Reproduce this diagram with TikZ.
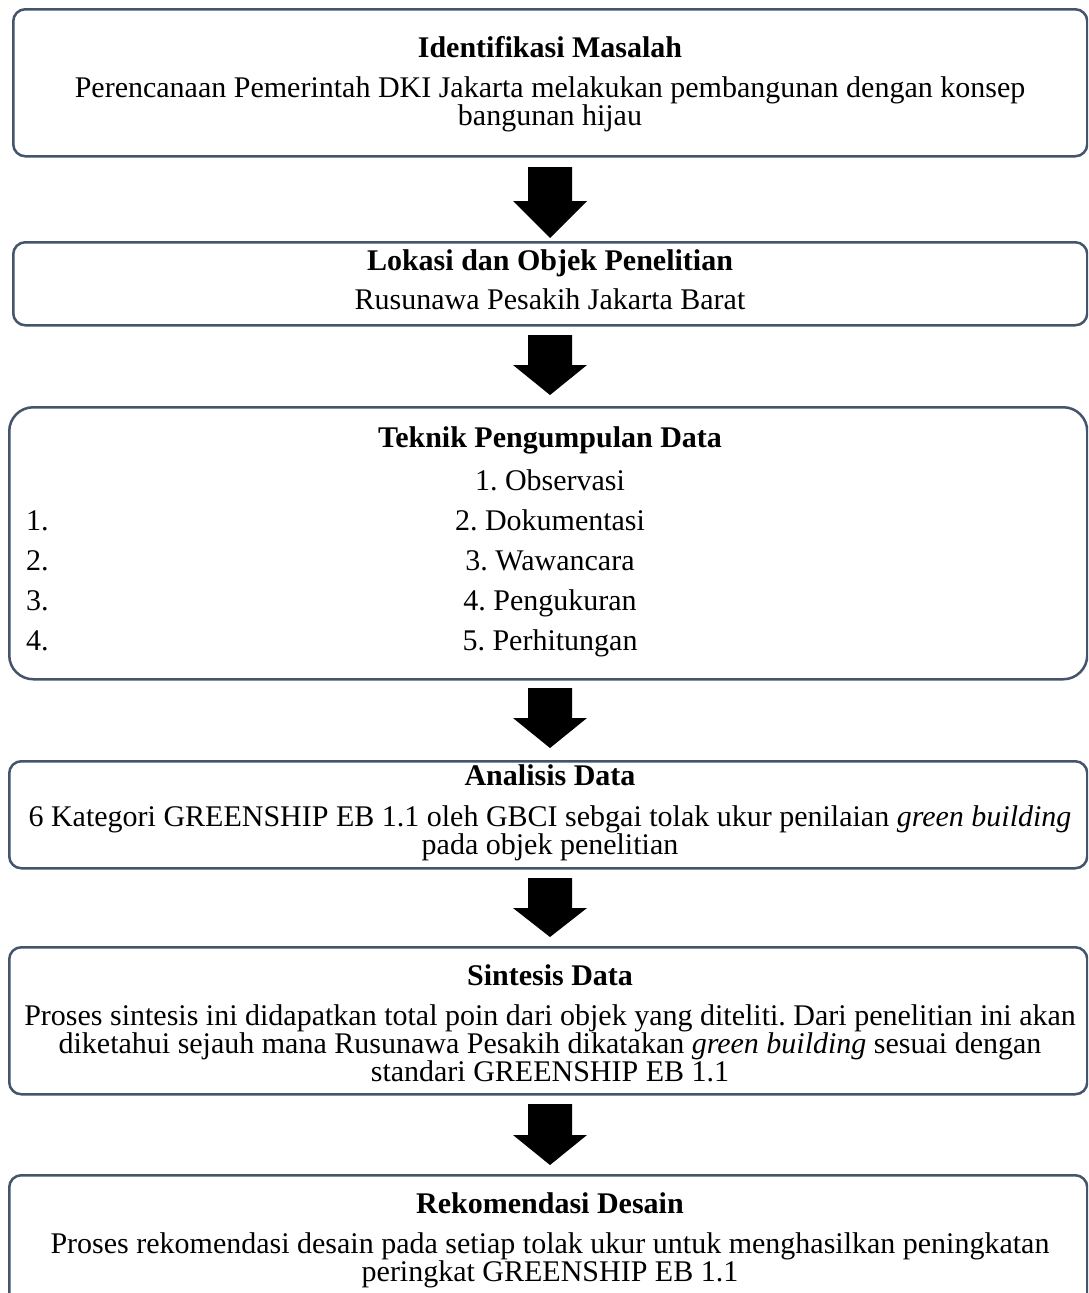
\documentclass[tikz,border=0pt]{standalone}
\usepackage{fontspec}
\setmainfont{Liberation Serif}
\definecolor{boxcol}{HTML}{44546A}
\frenchspacing
\newcommand\blockarrowat[3]{\fill[arrowfill] (#1) ++(-22,0) -- ++(44,0) -- ++(0,#2) -- ++(15,0) -- ++(-37,#3) -- ++(-37,-#3) -- ++(15,0) -- cycle;}
\begin{document}
\begin{tikzpicture}[x=1pt,y=-1pt,
  box/.style={draw=boxcol, line width=2.5pt, rounded corners=12pt, anchor=north west, inner sep=0pt},
  txt/.style={anchor=base, inner sep=0pt, align=center, font=\fontsize{30}{28}\selectfont},
  ttl/.style={txt, font=\fontsize{30}{28}\selectfont\bfseries},
  num/.style={anchor=base west, inner sep=0pt, font=\fontsize{30}{28}\selectfont},
  arrowfill/.style={fill=black}]
\path[use as bounding box, clip] (0,0) rectangle (1088,1293);
\fill[white] (0,0) rectangle (1088,1293);
% boxes
\node[box, minimum width=1074pt, minimum height=147pt] (b1) at (12,8) {};
\node[box, minimum width=1074pt, minimum height=83pt] (b2) at (12,241) {};
\node[box, rounded corners=24pt, minimum width=1078pt, minimum height=272pt] (b3) at (8,406) {};
\node[box, minimum width=1078pt, minimum height=107pt] (b4) at (8,760) {};
\node[box, minimum width=1078pt, minimum height=147pt] (b5) at (8,946) {};
\node[box, minimum width=1078pt, minimum height=160pt] (b6) at (8,1174) {};
% texts (multi-line nodes: base = last line's baseline)
\node[ttl] (t1) at (550,57) {Identifikasi Masalah};
\node[txt] (t1b) at (550,125) {Perencanaan Pemerintah DKI Jakarta melakukan pembangunan dengan konsep\\bangunan hijau};
\node[ttl] (t2) at (550,270) {Lokasi dan Objek Penelitian};
\node[txt] (t2b) at (550,309) {Rusunawa Pesakih Jakarta Barat};
\node[ttl] (t3) at (550,447) {Teknik Pengumpulan Data};
\node[txt] (i1) at (550,490) {1. Observasi};
\node[txt] (i2) at (550,530) {2. Dokumentasi};
\node[txt] (i3) at (550,570) {3. Wawancara};
\node[txt] (i4) at (550,610) {4. Pengukuran};
\node[txt] (i5) at (550,650) {5. Perhitungan};
\node[num] (n1) at (26,530) {1.};
\node[num] (n2) at (26,570) {2.};
\node[num] (n3) at (26,610) {3.};
\node[num] (n4) at (26,650) {4.};
\node[ttl] (t4) at (550,785) {Analisis Data};
\node[txt] (t4b) at (550,854) {6 Kategori GREENSHIP EB 1.1 oleh GBCI sebgai tolak ukur penilaian \textit{green building}\\pada objek penelitian};
\node[ttl] (t5) at (550,985) {Sintesis Data};
\node[txt] (t5b) at (550,1081) {Proses sintesis ini didapatkan total poin dari objek yang diteliti. Dari penelitian ini akan\\diketahui sejauh mana Rusunawa Pesakih dikatakan \textit{green building} sesuai dengan\\standari GREENSHIP EB 1.1};
\node[ttl] (t6) at (550,1213) {Rekomendasi Desain};
\node[txt] (t6b) at (550,1281) {Proses rekomendasi desain pada setiap tolak ukur untuk menghasilkan peningkatan\\peringkat GREENSHIP EB 1.1};
% arrows
\coordinate (a1) at (550,167);
\coordinate (a2) at (550,335);
\coordinate (a3) at (550,688);
\coordinate (a4) at (550,878);
\coordinate (a5) at (550,1104);
\blockarrowat{a1}{34}{37}
\blockarrowat{a2}{30}{30}
\blockarrowat{a3}{30}{30}
\blockarrowat{a4}{30}{29}
\blockarrowat{a5}{31}{30}
\end{tikzpicture}
\end{document}
